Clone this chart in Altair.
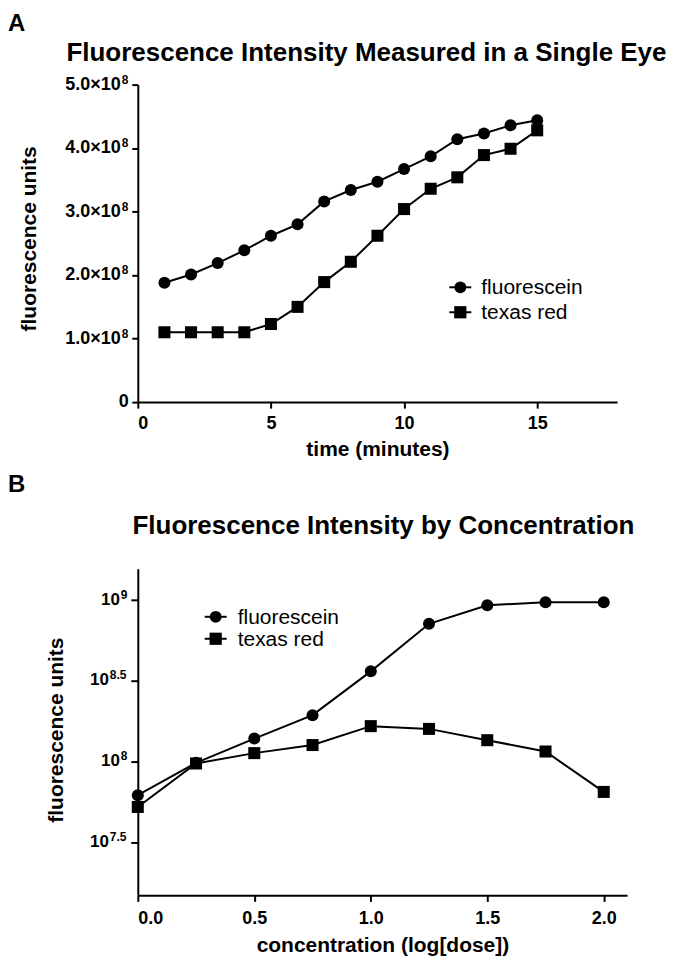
import altair as alt
import pandas as pd

FONT = "Liberation Sans, Arial, Helvetica, sans-serif"

series_names = ["fluorescein", "texas red"]
series_shapes = ["circle", "square"]

# ---------------- Panel A data ----------------
panel_a_letter = "A"
panel_a_title = "Fluorescence Intensity Measured in a Single Eye"
time_minutes = [1, 2, 3, 4, 5, 6, 7, 8, 9, 10, 11, 12, 13, 14, 15]
fluorescein_a = [1.88, 2.01, 2.19, 2.39, 2.62, 2.80, 3.16, 3.34, 3.47, 3.67, 3.87, 4.14, 4.23, 4.36, 4.44]  # x 1e8
texas_red_a = [1.10, 1.10, 1.10, 1.10, 1.23, 1.50, 1.89, 2.21, 2.62, 3.04, 3.36, 3.54, 3.89, 3.99, 4.28]  # x 1e8
a_ytick_mantissas = [1.0, 2.0, 3.0, 4.0, 5.0]  # x 1e8, plus a plain "0"
a_xticks = [0, 5, 10, 15]

# ---------------- Panel B data ----------------
panel_b_letter = "B"
panel_b_title = "Fluorescence Intensity by Concentration"
concentration = [0.0, 0.25, 0.5, 0.75, 1.0, 1.25, 1.5, 1.75, 2.0]
fluorescein_b_exp = [7.79, 7.99, 8.14, 8.285, 8.556, 8.85, 8.965, 8.983, 8.983]  # log10 units
texas_red_b_exp = [7.717, 7.986, 8.05, 8.10, 8.217, 8.20, 8.13, 8.06, 7.81]  # log10 units
b_ytick_exps = ["7.5", "8", "8.5", "9"]
b_xticks = [0.0, 0.5, 1.0, 1.5, 2.0]

# ---------------- tables ----------------
df_a = pd.DataFrame({
    "time": time_minutes * 2,
    "value": [v * 1e8 for v in fluorescein_a] + [v * 1e8 for v in texas_red_a],
    "series": [series_names[0]] * len(time_minutes) + [series_names[1]] * len(time_minutes),
})
df_a_ticks = pd.DataFrame({"value": [m * 1e8 for m in a_ytick_mantissas],
                           "lab": [f"{m:.1f}×10" for m in a_ytick_mantissas],
                           "exp": ["8"] * len(a_ytick_mantissas)})
df_a_zero = pd.DataFrame({"value": [0.0], "lab": ["0"]})

df_b = pd.DataFrame({
    "conc": concentration * 2,
    "value": [10 ** e for e in fluorescein_b_exp] + [10 ** e for e in texas_red_b_exp],
    "series": [series_names[0]] * len(concentration) + [series_names[1]] * len(concentration),
})
df_b_int = pd.DataFrame({"value": [10 ** float(e) for e in b_ytick_exps if "." not in e],
                         "exp": [e for e in b_ytick_exps if "." not in e]})
df_b_half = pd.DataFrame({"value": [10 ** float(e) for e in b_ytick_exps if "." in e],
                          "exp": [e for e in b_ytick_exps if "." in e]})

shape_scale = alt.Scale(domain=series_names, range=series_shapes)

axis_common = dict(
    grid=False, domainColor="black", domainWidth=2, tickColor="black", tickWidth=2,
    labelFont=FONT, labelFontSize=18, labelFontWeight="bold", labelColor="black",
    titleFont=FONT, titleFontSize=21, titleFontWeight="bold", titleColor="black",
)


def text_layer(label, x, y, size, weight="bold", align="left", baseline="alphabetic"):
    return alt.Chart(pd.DataFrame({"t": [label]})).mark_text(
        font=FONT, fontSize=size, fontWeight=weight, align=align, baseline=baseline, color="black"
    ).encode(x=alt.value(x), y=alt.value(y), text="t:N")


def legend_layers(x_line0, x_line1, x_text, y0, dy):
    layers = []
    for i, (name, shp, sz) in enumerate(zip(series_names, series_shapes, [140, 150])):
        yy = y0 + dy * i
        d = pd.DataFrame({"t": [name]})
        layers.append(alt.Chart(d).mark_rule(color="black", strokeWidth=2).encode(
            x=alt.value(x_line0), x2=alt.value(x_line1), y=alt.value(yy)))
        layers.append(alt.Chart(d).mark_point(filled=True, color="black", opacity=1, size=sz, shape=shp).encode(
            x=alt.value((x_line0 + x_line1) / 2), y=alt.value(yy)))
        layers.append(alt.Chart(d).mark_text(font=FONT, fontSize=21, align="left", baseline="middle", color="black").encode(
            x=alt.value(x_text), y=alt.value(yy + 1), text="t:N"))
    return layers


def tick_text(df, y_enc, x, size, align, dy=0, field="lab"):
    return alt.Chart(df).mark_text(font=FONT, fontSize=size, fontWeight="bold", align=align,
                                   baseline="middle", dy=dy, color="black").encode(
        y=y_enc, x=alt.value(x), text=f"{field}:N")


# ---------------- Panel A ----------------
WA, HA = 480, 318
xA = alt.X("time:Q", scale=alt.Scale(domain=[0, 18], nice=False, zero=False),
           axis=alt.Axis(values=a_xticks, title="time (minutes)", tickSize=6, labelPadding=6,
                         titleBaseline="alphabetic", titleY=53, **axis_common))
yA = alt.Y("value:Q", scale=alt.Scale(domain=[0, 5e8], nice=False),
           axis=alt.Axis(values=[0.0] + [m * 1e8 for m in a_ytick_mantissas], labels=False,
                         title="fluorescence units", tickSize=6,
                         titleAngle=270, titleBaseline="alphabetic", titleAlign="center",
                         titleX=-102, titleY=154, **axis_common))

line_a = alt.Chart(df_a).mark_line(color="black", strokeWidth=2).encode(x=xA, y=yA, detail="series:N")
pts_a = alt.Chart(df_a).mark_point(filled=True, color="black", opacity=1, size=145).encode(
    x=xA, y=yA, shape=alt.Shape("series:N", scale=shape_scale, legend=None))

panel_a = alt.layer(
    line_a, pts_a,
    tick_text(df_a_ticks, yA, -17, 18, "right"),
    tick_text(df_a_ticks, yA, -16, 12, "left", dy=-5, field="exp"),
    tick_text(df_a_zero, yA, -9, 18, "right"),
    *legend_layers(312, 334, 344, 203, 25),
    text_layer(panel_a_letter, -130, -54, 24),
    text_layer(panel_a_title, 229, -24, 26, align="center"),
).properties(width=WA, height=HA)

# ---------------- Panel B ----------------
WB, HB = 490, 327
xB = alt.X("conc:Q", scale=alt.Scale(domain=[0, 2.1], nice=False, zero=False),
           axis=alt.Axis(values=b_xticks, format=".1f", title="concentration (log[dose])", tickSize=6,
                         labelPadding=8, titleBaseline="alphabetic", titleY=56, **axis_common))
yB = alt.Y("value:Q", scale=alt.Scale(type="log", domain=[10 ** 7.17, 10 ** 9.19], nice=False),
           axis=alt.Axis(values=[10 ** float(e) for e in b_ytick_exps], labels=False, tickSize=7,
                         title="fluorescence units", titleAngle=270, titleBaseline="alphabetic",
                         titleAlign="center", titleX=-75, titleY=161, **axis_common))

line_b = alt.Chart(df_b).mark_line(color="black", strokeWidth=2).encode(x=xB, y=yB, detail="series:N")
pts_b = alt.Chart(df_b).mark_point(filled=True, color="black", opacity=1, size=145).encode(
    x=xB, y=yB, shape=alt.Shape("series:N", scale=shape_scale, legend=None))

ten_int = alt.Chart(df_b_int).mark_text(font=FONT, fontSize=17, fontWeight="bold", align="right",
                                        baseline="middle", color="black").encode(
    y=yB, x=alt.value(-18), text=alt.value("10"))
exp_int = tick_text(df_b_int, yB, -17, 12, "left", dy=-5, field="exp")
ten_half = alt.Chart(df_b_half).mark_text(font=FONT, fontSize=17, fontWeight="bold", align="right",
                                          baseline="middle", color="black").encode(
    y=yB, x=alt.value(-29), text=alt.value("10"))
exp_half = tick_text(df_b_half, yB, -28, 12, "left", dy=-5, field="exp")

panel_b = alt.layer(
    line_b, pts_b, ten_int, exp_int, ten_half, exp_half,
    *legend_layers(67, 89, 100, 48, 22),
    text_layer(panel_b_letter, -130, -77, 24),
    text_layer(panel_b_title, 246, -35, 26, align="center"),
).properties(width=WB, height=HB)

chart = alt.vconcat(panel_a, panel_b, spacing=14).properties(
    padding={"left": 0, "top": 3, "right": 0, "bottom": 0}, background="white"
).configure_view(stroke=None)

chart.save("out.html", embed_options={"renderer": "svg", "actions": False})
